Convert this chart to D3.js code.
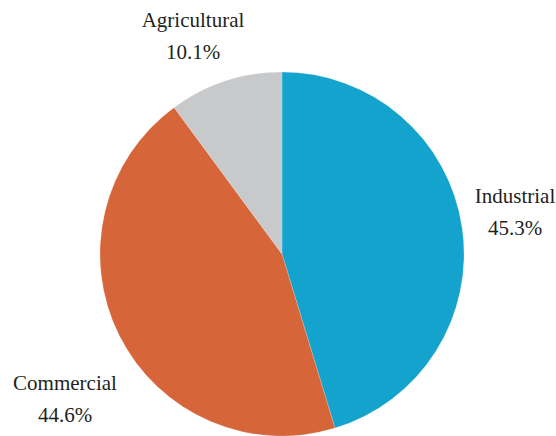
<!DOCTYPE html>
<html>
<head>
<meta charset="utf-8">
<script src="https://cdn.jsdelivr.net/npm/d3@7"></script>
<style>
  html, body { margin: 0; padding: 0; background: #fff; }
  svg { display: block; }
</style>
</head>
<body>
<svg id="chart"></svg>
<script>
// data
const categories = ['Industrial', 'Commercial', 'Agricultural'];
const shares = [45.3, 44.6, 10.1];
const colors = ['#13a3cd', '#d6653a', '#c8c9cb'];

// label placement (center x, first-line baseline)
const labelPos = [[515, 203], [65, 390], [193, 27]];

const W = 556, H = 436;
const cx = 282, cy = 254, R = 182;
const serif = "'Liberation Serif', 'Times New Roman', Times, 'DejaVu Serif', serif";

const svg = d3.select('#chart').attr('width', W).attr('height', H);

const pie = d3.pie().sort(null).value(d => d.value);
const arc = d3.arc().innerRadius(0).outerRadius(R);

const data = categories.map((c, i) => ({ name: c, value: shares[i], color: colors[i] }));

const g = svg.append('g').attr('transform', `translate(${cx},${cy})`);

g.selectAll('path')
  .data(pie(data))
  .join('path')
  .attr('d', arc)
  .attr('fill', d => d.data.color)
  .attr('stroke', '#fff')
  .attr('stroke-opacity', 0.35)
  .attr('stroke-width', 0.5);

// labels: name on first line, percent below
const labels = svg.append('g');
data.forEach((d, i) => {
  const [lx, ly] = labelPos[i];
  const t = labels.append('text')
    .attr('x', lx).attr('y', ly)
    .attr('text-anchor', 'middle')
    .attr('font-family', serif)
    .attr('font-size', 21)
    .attr('fill', '#231f20');
  t.append('tspan').attr('x', lx).text(d.name);
  t.append('tspan').attr('x', lx).attr('dy', 32).text(d3.format('.1f')(d.value) + '%');
});
</script>
</body>
</html>
